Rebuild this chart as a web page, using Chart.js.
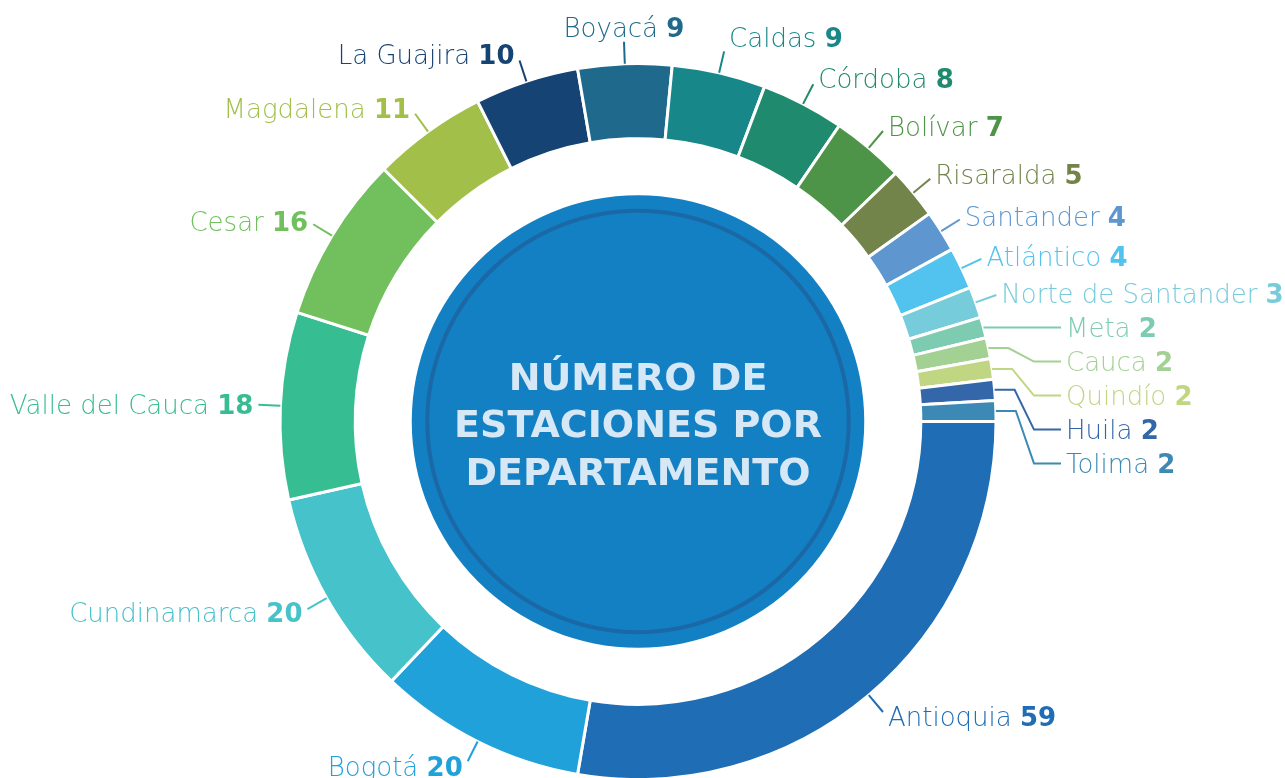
<!DOCTYPE html>
<html>
<head>
<meta charset="utf-8">
<script src="https://cdn.jsdelivr.net/npm/chart.js@4.4.0/dist/chart.umd.min.js"></script>
<style>
  html, body { margin: 0; padding: 0; background: #ffffff; }
  canvas { display: block; }
</style>
</head>
<body>
<canvas id="donutChart" width="1285" height="778"></canvas>
<script>
// Data
const departamentos = ['Antioquia', 'Bogotá', 'Cundinamarca', 'Valle del Cauca', 'Cesar', 'Magdalena',
  'La Guajira', 'Boyacá', 'Caldas', 'Córdoba', 'Bolívar', 'Risaralda', 'Santander', 'Atlántico',
  'Norte de Santander', 'Meta', 'Cauca', 'Quindío', 'Huila', 'Tolima'];
const estaciones = [59, 20, 20, 18, 16, 11, 10, 9, 9, 8, 7, 5, 4, 4, 3, 2, 2, 2, 2, 2];
const colores = ['#1f6db4', '#21a1da', '#46c2cb', '#37bd92', '#72c05d', '#a2bf4a',
  '#154373', '#1f6a8c', '#17878a', '#1f8a6d', '#4e9448', '#72844a', '#5e97d0', '#52c3ef',
  '#77ccdb', '#7dcbb0', '#a3d193', '#c0d682', '#3467a9', '#3b89b4'];
const titulo = ['NÚMERO DE', 'ESTACIONES POR', 'DEPARTAMENTO'];

const FONT = '"DejaVu Sans", sans-serif';

// center disc + title
const centerPlugin = {
  id: 'centro',
  afterDatasetsDraw(chart) {
    const ctx = chart.ctx;
    const arc = chart.getDatasetMeta(0).data[0];
    const { x, y, innerRadius } = arc.getProps(['x', 'y', 'innerRadius'], true);
    ctx.save();
    ctx.beginPath();
    ctx.arc(x, y, innerRadius * 0.8, 0, Math.PI * 2);
    ctx.fillStyle = '#1380c3';
    ctx.fill();
    ctx.beginPath();
    ctx.arc(x, y, innerRadius * 0.745, 0, Math.PI * 2);
    ctx.strokeStyle = '#1b68a6';
    ctx.lineWidth = 4;
    ctx.stroke();

    ctx.fillStyle = '#d6e8f6';
    ctx.font = 'bold 38px ' + FONT;
    ctx.textAlign = 'center';
    ctx.textBaseline = 'alphabetic';
    const cap = 38 * 0.73;
    titulo.forEach((line, i) => {
      ctx.fillText(line, x, y + 2 + (i - 1) * 47.5 + cap / 2);
    });
    ctx.restore();
  }
};

// labels with leader lines
const labelPlugin = {
  id: 'etiquetas',
  afterDatasetsDraw(chart) {
    const ctx = chart.ctx;
    const arcs = chart.getDatasetMeta(0).data;
    const lead = 22;
    const size = 26;
    const cap = size * 0.73;
    let lastColY = -Infinity;
    ctx.save();
    arcs.forEach((arc, i) => {
      const { x, y, startAngle, endAngle, outerRadius } =
        arc.getProps(['x', 'y', 'startAngle', 'endAngle', 'outerRadius'], true);
      const mid = (startAngle + endAngle) / 2;
      const cos = Math.cos(mid), sin = Math.sin(mid);
      const sx = x + cos * outerRadius, sy = y + sin * outerRadius;
      let tx, ty, align;

      ctx.strokeStyle = colores[i];
      ctx.lineWidth = 2;
      ctx.beginPath();
      ctx.moveTo(sx, sy);
      if (cos > 0 && Math.abs(sin) < 0.3) {
        // stacked column on the right for the thin slices
        const colX = x + outerRadius + 70;
        ty = Math.max(sy, lastColY + 34);
        lastColY = ty;
        ctx.lineTo(sx + 20, sy);
        ctx.lineTo(colX - 32, ty);
        ctx.lineTo(colX - 5, ty);
        tx = colX;
        align = 'left';
      } else {
        const ex = x + cos * (outerRadius + lead), ey = y + sin * (outerRadius + lead);
        ctx.lineTo(ex, ey);
        if (cos > 0.1) { tx = ex + 5; align = 'left'; }
        else if (cos < -0.1) { tx = ex - 5; align = 'right'; }
        else { tx = ex; align = 'center'; }
        ty = ey + sin * (Math.abs(cos) < 0.25 ? 14 : 6);
      }
      ctx.stroke();

      const name = departamentos[i] + ' ';
      const num = String(estaciones[i]);
      const nameFont = '200 ' + size + 'px ' + FONT;
      const numFont = 'bold ' + size + 'px ' + FONT;
      ctx.font = nameFont;
      const wName = ctx.measureText(name).width;
      ctx.font = numFont;
      const wNum = ctx.measureText(num).width;
      let left = tx;
      if (align === 'right') left = tx - wName - wNum;
      else if (align === 'center') left = tx - (wName + wNum) / 2;
      const base = ty + cap / 2;
      ctx.textAlign = 'left';
      ctx.textBaseline = 'alphabetic';
      ctx.fillStyle = colores[i];
      ctx.font = nameFont;
      ctx.fillText(name, left, base);
      ctx.font = numFont;
      ctx.fillText(num, left + wName, base);
    });
    ctx.restore();
  }
};

new Chart(document.getElementById('donutChart'), {
  type: 'doughnut',
  data: {
    labels: departamentos,
    datasets: [{
      data: estaciones,
      backgroundColor: colores,
      borderColor: '#ffffff',
      borderWidth: 3
    }]
  },
  options: {
    responsive: false,
    animation: false,
    rotation: 90,
    radius: 358,
    cutout: '79%',
    layout: { padding: { left: 281, right: 290, top: 65, bottom: 0 } },
    plugins: {
      legend: { display: false },
      tooltip: { enabled: false }
    }
  },
  plugins: [centerPlugin, labelPlugin]
});
</script>
</body>
</html>
